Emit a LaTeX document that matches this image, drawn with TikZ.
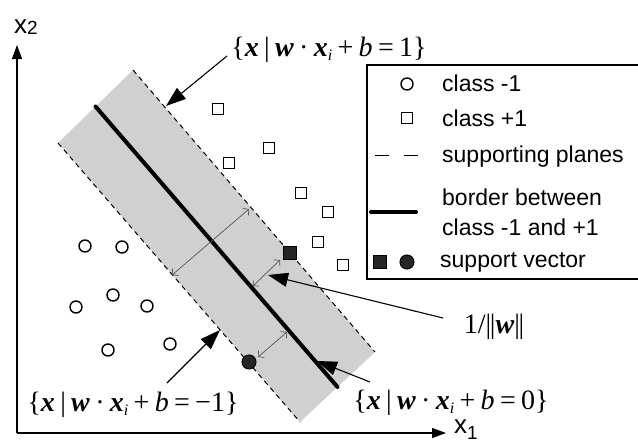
\documentclass[tikz,border=0pt]{standalone}
\usepackage{fontspec}
\setmainfont{Liberation Sans}
\newfontfamily\tms{Liberation Serif}
\usetikzlibrary{arrows.meta}
\definecolor{bandgray}{RGB}{208,208,208}
\definecolor{measgray}{RGB}{85,85,85}
\newcommand{\hsp}{\kern0.19em}
\newcommand{\hypset}[1]{{\tms\fontsize{28}{28}\selectfont\{\textbf{\textit{x}}\hsp|\hsp\textbf{\textit{w}}\hsp·\hsp\textbf{\textit{x}}\raisebox{-0.3ex}{\fontsize{16}{16}\selectfont\textit{i}}\hsp+\hsp\textit{b}\hsp=\hsp#1\}}}
\tikzset{
  bandfill/.style={fill=bandgray,draw=none},
  dashedge/.style={line width=1pt,dash pattern=on 5pt off 4pt},
  borderline/.style={line width=4pt,line cap=round},
  possq/.style={draw,line width=1.4pt,fill=white,minimum size=11pt,inner sep=0pt,rectangle},
  negci/.style={draw,line width=1.4pt,fill=white,circle,minimum size=12pt,inner sep=0pt},
  svsq/.style={draw,line width=1pt,fill=black!85,minimum size=13pt,inner sep=0pt,rectangle},
  svci/.style={draw,line width=1pt,fill=black!85,circle,minimum size=14pt,inner sep=0pt},
  meas/.style={draw=measgray,line width=0.7pt,{Straight Barb[length=4pt,width=9pt]}-{Straight Barb[length=4pt,width=9pt]}},
  callout/.style={line width=1.1pt,-{Triangle[length=20pt,width=14pt]}},
  axisline/.style={line width=1.3pt,-{Triangle[length=14pt,width=10pt]}},
  legtext/.style={anchor=base west,inner sep=0pt,font=\fontsize{23}{23}\selectfont},
  mlabel/.style={inner sep=0pt}
}
\begin{document}
\begin{tikzpicture}[x=1pt,y=-1pt]
\useasboundingbox (0,0) rectangle (638,442);
% band
\coordinate (T) at (133,70);
\coordinate (R) at (375,352);
\coordinate (B) at (300,422);
\coordinate (L) at (58,143);
\coordinate (C0) at (95.5,106.5);
\coordinate (C1) at (337.5,387);
\fill[bandfill] (T) -- (R) -- (B) -- (L) -- cycle;
\draw[dashedge] (T) -- (R);
\draw[dashedge] (L) -- (B);
\draw[borderline] (C0) -- (C1);
% axes
\coordinate (O) at (17,433);
\coordinate (ytip) at (17,45);
\coordinate (xtip) at (446,433);
\draw[axisline] (O) -- (ytip);
\draw[axisline] (O) -- (xtip);
\node[anchor=base west,inner sep=0pt] (x2lab) at (14,33) {\fontsize{26}{26}\selectfont x\fontsize{19}{19}\selectfont\raisebox{-1pt}{2}};
\node[anchor=base west,inner sep=0pt] (x1lab) at (454,433) {\fontsize{26}{26}\selectfont x\fontsize{19}{19}\selectfont\raisebox{-6pt}{1}};
% class +1
\node[possq] (p1) at (218,109) {};
\node[possq] (p2) at (269,148) {};
\node[possq] (p3) at (229,163) {};
\node[possq] (p4) at (301,193) {};
\node[possq] (p5) at (328,212) {};
\node[possq] (p6) at (318,242) {};
\node[possq] (p7) at (343,265) {};
% class -1
\node[negci] (n1) at (85,246) {};
\node[negci] (n2) at (122,247) {};
\node[negci] (n3) at (113,295) {};
\node[negci] (n4) at (76,307) {};
\node[negci] (n5) at (147,306) {};
\node[negci] (n6) at (108,350) {};
\node[negci] (n7) at (170,344) {};
% support vectors
\node[svsq] (sv1) at (290,253) {};
\node[svci] (sv2) at (249,362) {};
% margin arrows
\coordinate (m1a) at (249,209);
\coordinate (m1b) at (172,275);
\coordinate (m2a) at (280,260);
\coordinate (m2b) at (253,286);
\coordinate (m3a) at (287,332);
\coordinate (m3b) at (258,357);
\draw[meas] (m1a) -- (m1b);
\draw[meas] (m2a) -- (m2b);
\draw[meas] (m3a) -- (m3b);
% labels
\node[mlabel] (hp1) at (329,50) {\hypset{1}};
\node[mlabel] (hm1) at (133,405) {\hypset{−1}};
\node[mlabel] (hz) at (451,403) {\hypset{0}};
\node[mlabel] (mw) at (494,327) {\tms\fontsize{28}{28}\selectfont 1/|\kern-0.05em|\textbf{\textit{w}}|\kern-0.05em|};
\coordinate (s1) at (227,56);
\coordinate (t1) at (166,106);
\coordinate (s2) at (167,383);
\coordinate (t2) at (220,330);
\coordinate (s3) at (443,318);
\coordinate (t3) at (268,275);
\coordinate (s4) at (370,382);
\coordinate (t4) at (317,361);
\draw[callout] (s1) -- (t1);
\draw[callout] (s2) -- (t2);
\draw[callout] (s3) -- (t3);
\draw[callout] (s4) -- (t4);
% legend
\draw[line width=1.2pt] (645,65) -- (367,65) -- (367,279) -- (645,279);
\node[negci] (lg1) at (407,84) {};
\node[legtext] (lt1) at (442,91) {class -1};
\node[possq] (lg2) at (407,118) {};
\node[legtext] (lt2) at (442,126) {class +1};
\coordinate (ld1) at (375,155);
\coordinate (ld2) at (419,155);
\draw[line width=1pt,dash pattern=on 14pt off 15pt] (ld1) -- (ld2);
\node[legtext] (lt3) at (442,162) {supporting planes};
\coordinate (lb1) at (371,212);
\coordinate (lb2) at (416,212);
\draw[borderline] (lb1) -- (lb2);
\node[legtext] (lt4) at (442,205) {border between};
\node[legtext] (lt5) at (442,235) {class -1 and +1};
\node[svsq] (lg3) at (380,262) {};
\node[svci] (lg4) at (407,262) {};
\node[legtext] (lt6) at (440,267) {support vector};
\end{tikzpicture}
\end{document}
